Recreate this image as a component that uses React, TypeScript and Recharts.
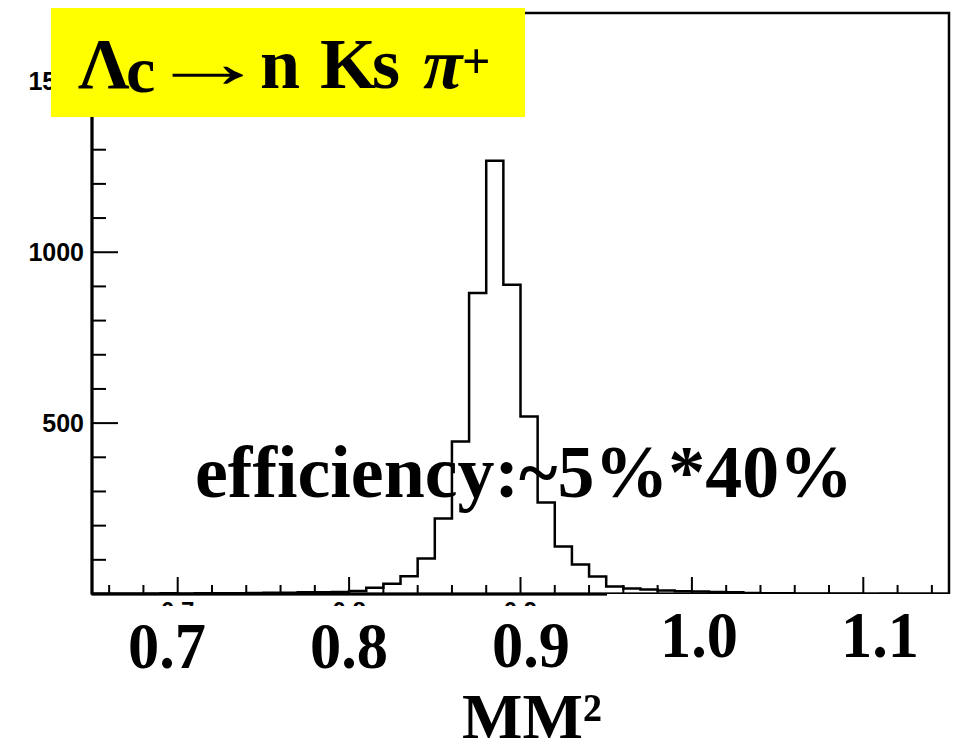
import { ComposedChart, Line, XAxis, YAxis, ReferenceArea } from "recharts";

// histogram binning (MM^2), 50 bins of 0.01 from 0.65
const binStart = 0.65;
const binWidth = 0.01;
const counts = [
  1, 1, 1, 1, 2, 1, 2, 2, 2, 3,
  4, 4, 5, 5, 6, 9, 18, 30, 52, 104,
  221, 446, 881, 1268, 905, 519, 268, 139, 86, 51,
  22, 16, 13, 10, 8, 7, 6, 5, 3, 2,
  2, 1, 1, 1, 1, 0, 1, 0, 0, 0,
];

const xTicks = [
  0.66, 0.68, 0.7, 0.72, 0.74, 0.76, 0.78, 0.8, 0.82, 0.84, 0.86, 0.88, 0.9,
  0.92, 0.94, 0.96, 0.98, 1.0, 1.02, 1.04, 1.06, 1.08, 1.1, 1.12, 1.14,
];
const xMajor = [0.7, 0.8, 0.9, 1.0, 1.1];
// only these small axis labels peek out from under the slide labels
const xSmallLabels = [0.7, 0.8, 0.9];
const yTicks = [
  100, 200, 300, 400, 500, 600, 700, 800, 900, 1000, 1100, 1200, 1300, 1400,
  1500, 1600, 1700,
];
const yLabels = [500, 1000, 1500];

// big slide labels drawn over the axis
const bigLabels = ["0.7", "0.8", "0.9", "1.0", "1.1"];
const bigLabelX = [167, 349, 531, 699, 880];
const bigLabelY = [668, 668, 667, 657, 657];

const plotLeft = 92;
const plotBottom = 594;

const data = counts.map((c, i) => ({ x: binStart + i * binWidth, count: c }));
data.push({ x: binStart + counts.length * binWidth, count: counts[counts.length - 1] });

const serif = "'Liberation Serif', 'Times New Roman', serif";
const sans = "'Liberation Sans', Arial, sans-serif";

const XTick = (props: any) => {
  const { x, payload } = props;
  const v = payload.value;
  const major = xMajor.some((m) => Math.abs(m - v) < 1e-6);
  const label = xSmallLabels.some((m) => Math.abs(m - v) < 1e-6);
  return (
    <g>
      <line x1={x} x2={x} y1={plotBottom} y2={plotBottom - (major ? 17 : 9)} stroke="#000" strokeWidth={2} />
      {label && (
        <text x={x} y={601} textAnchor="middle" dominantBaseline="hanging" fontFamily={sans} fontWeight="bold" fontSize={24} fill="#000">
          {v.toFixed(1)}
        </text>
      )}
    </g>
  );
};

const YTick = (props: any) => {
  const { y, payload } = props;
  const v = payload.value;
  const major = yLabels.includes(v);
  return (
    <g>
      <line x1={plotLeft} x2={plotLeft + (major ? 26 : 14)} y1={y} y2={y} stroke="#000" strokeWidth={2} />
      {major && (
        <text x={84} y={y} textAnchor="end" dominantBaseline="central" fontFamily={sans} fontWeight="bold" fontSize={25} fill="#000">
          {v}
        </text>
      )}
    </g>
  );
};

export default function App() {
  return (
    <div style={{ position: "absolute", left: 0, top: 0, width: 957, height: 740, background: "#fff" }}>
      <ComposedChart width={957} height={740} data={data} margin={{ top: 13, right: 8, bottom: 0, left: 0 }}>
        <XAxis
          dataKey="x"
          type="number"
          domain={[0.65, 1.15]}
          ticks={xTicks}
          interval={0}
          allowDataOverflow
          height={146}
          tickLine={false}
          tickSize={0}
          axisLine={{ stroke: "#000", strokeWidth: 3 }}
          tick={<XTick />}
        />
        <YAxis
          type="number"
          domain={[0, 1700]}
          ticks={yTicks}
          interval={0}
          allowDataOverflow
          width={92}
          tickLine={false}
          tickSize={0}
          axisLine={{ stroke: "#000", strokeWidth: 3 }}
          tick={<YTick />}
        />
        <ReferenceArea x1={0.65} x2={1.15} y1={0} y2={1700} fill="none" fillOpacity={0} stroke="#000" strokeWidth={2.5} ifOverflow="visible" />
        <Line
          type="stepAfter"
          dataKey="count"
          stroke="#000"
          strokeWidth={2.5}
          dot={false}
          isAnimationActive={false}
        />
      </ComposedChart>

      <svg width={957} height={740} style={{ position: "absolute", left: 0, top: 0, pointerEvents: "none" }}>
        {/* slide boxes hide most of the small axis labels */}
        <rect x={86} y={606} width={521} height={134} fill="#fff" />
        <rect x={607} y={594} width={350} height={146} fill="#fff" />

        <rect x={51} y={8} width={474} height={109} fill="#ffff00" />
        <g fontFamily={serif} fontWeight="bold" fill="#000">
          <text x={78} y={88} fontSize={72}>Λ</text>
          <text x={126} y={92} fontSize={66}>c</text>
          <text transform="translate(148,87) scale(1.65,1)" x={0} y={0} fontSize={72} fontWeight="normal">→</text>
          <text x={260} y={88} fontSize={72}>n</text>
          <text x={320} y={88} fontSize={72}>K</text>
          <text x={372} y={88} fontSize={72}>s</text>
          <text x={423} y={88} fontSize={72} fontStyle="italic">π</text>
          <text x={462} y={78} fontSize={50}>+</text>
        </g>

        <text x={195} y={497} fontFamily={serif} fontWeight="bold" fontSize={74} textLength={658} lengthAdjust="spacingAndGlyphs" fill="#000">
          efficiency:~5%*40%
        </text>

        {bigLabels.map((t, i) => (
          <text key={t} x={bigLabelX[i]} y={bigLabelY[i]} textAnchor="middle" fontFamily={serif} fontWeight="bold" fontSize={66} textLength={78} lengthAdjust="spacingAndGlyphs" fill="#000">
            {t}
          </text>
        ))}

        <text x={462} y={738} fontFamily={serif} fontWeight="bold" fontSize={64} textLength={140} lengthAdjust="spacingAndGlyphs" fill="#000">
          MM²
        </text>
      </svg>
    </div>
  );
}
